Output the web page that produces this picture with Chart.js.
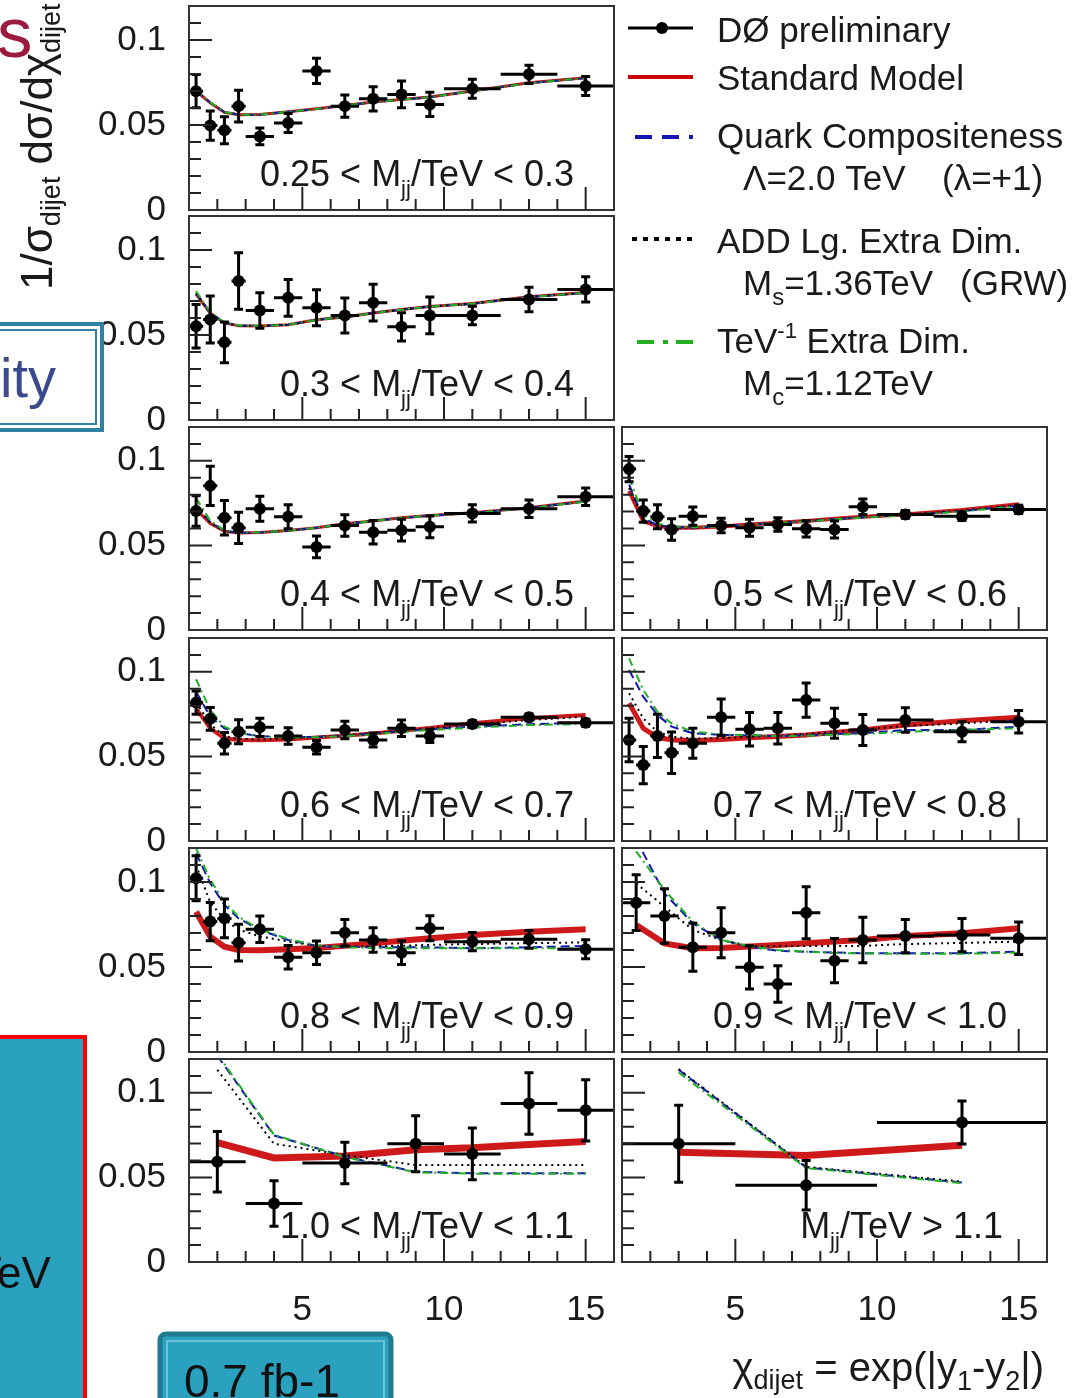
<!DOCTYPE html>
<html>
<head>
<meta charset="utf-8">
<script src="https://cdn.jsdelivr.net/npm/chart.js@4.4.0/dist/chart.umd.min.js"></script>
<style>
body { margin:0; background:#fff; width:1088px; height:1398px; overflow:hidden; position:relative; font-family:"Liberation Sans", Arial, sans-serif; }
canvas { position:absolute; }
#over { position:absolute; left:0; top:0; pointer-events:none; }
</style>
</head>
<body>
<canvas id="cA"></canvas><canvas id="cB"></canvas><canvas id="cC"></canvas><canvas id="cD"></canvas><canvas id="cE"></canvas>
<canvas id="cF"></canvas><canvas id="cG"></canvas><canvas id="cH"></canvas><canvas id="cI"></canvas><canvas id="cJ"></canvas>

<svg id="over" width="1088" height="1398" font-family="Liberation Sans, Arial, sans-serif">
  <!-- slide leftovers -->
  <text x="-3" y="57" font-size="71" fill="#9b1b3f">s</text>
  <rect x="-6" y="324" width="108" height="106" fill="#fff" stroke="#2f82a3" stroke-width="4"/>
  <rect x="-6" y="330" width="102" height="94" fill="none" stroke="#2f82a3" stroke-width="2"/>
  <text x="0" y="397" font-size="56" fill="#3b4a8c">ity</text>
  <rect x="-6" y="1037" width="91" height="370" fill="#2aa2bf" stroke="#ff0000" stroke-width="4"/>
  <text x="-25" y="1288" font-size="44" fill="#111">TeV</text>
  <rect x="160" y="1334" width="231" height="80" rx="6" fill="#2aa2bf" stroke="#1f7a90" stroke-width="5"/>
  <rect x="167" y="1341" width="217" height="70" fill="none" stroke="#6cc3d8" stroke-width="2"/>
  <text x="184" y="1397" font-size="46" fill="#111">0.7 fb-1</text>

  <!-- y axis title -->
  <text transform="translate(52,290) rotate(-90)" font-size="44" fill="#1a1a1a">1/σ<tspan dy="8" font-size="27">dijet</tspan><tspan dy="-8"> dσ/dχ</tspan><tspan dy="8" font-size="27">dijet</tspan></text>

  <!-- x axis title -->
  <text x="1044" y="1381" text-anchor="end" font-size="40" fill="#1a1a1a">χ<tspan dy="8" font-size="27">dijet</tspan><tspan dy="-8"> = exp(|y</tspan><tspan dy="9" font-size="27">1</tspan><tspan dy="-9">-y</tspan><tspan dy="9" font-size="27">2</tspan><tspan dy="-9">|)</tspan></text>

  <!-- legend -->
  <line x1="628" y1="28" x2="693" y2="28" stroke="#000" stroke-width="3"/>
  <circle cx="662" cy="28" r="6" fill="#000"/>
  <text x="717" y="42" font-size="35" fill="#1a1a1a">DØ preliminary</text>
  <line x1="628" y1="77" x2="693" y2="77" stroke="#cc0000" stroke-width="4"/>
  <text x="717" y="90" font-size="35" fill="#1a1a1a">Standard Model</text>
  <line x1="635" y1="137" x2="693" y2="137" stroke="#1515b5" stroke-width="4" stroke-dasharray="17,10"/>
  <text x="717" y="148" font-size="35" fill="#1a1a1a">Quark Compositeness</text>
  <text x="743" y="190" font-size="35" fill="#1a1a1a">Λ=2.0 TeV</text>
  <text x="942" y="190" font-size="35" fill="#1a1a1a">(λ=+1)</text>
  <line x1="632" y1="239" x2="693" y2="239" stroke="#000" stroke-width="4" stroke-dasharray="5,6"/>
  <text x="717" y="253" font-size="35" fill="#1a1a1a">ADD Lg. Extra Dim.</text>
  <text x="743" y="295" font-size="35" fill="#1a1a1a">M<tspan dy="10" font-size="24">s</tspan><tspan dy="-10">=1.36TeV</tspan></text>
  <text x="960" y="295" font-size="35" fill="#1a1a1a">(GRW)</text>
  <line x1="637" y1="342" x2="693" y2="342" stroke="#22b022" stroke-width="4" stroke-dasharray="17,9,5,8,18"/>
  <text x="717" y="353" font-size="35" fill="#1a1a1a">TeV<tspan dy="-15" font-size="22">-1</tspan><tspan dy="15"> Extra Dim.</tspan></text>
  <text x="743" y="395" font-size="35" fill="#1a1a1a">M<tspan dy="10" font-size="24">c</tspan><tspan dy="-10">=1.12TeV</tspan></text>
</svg>

<script>
// chi bins: edges and centres
const chiLo14 = [1, 1.5, 2, 2.5, 3, 4, 5, 6, 7, 8, 9, 10, 12, 14];
const chiHi14 = [1.5, 2, 2.5, 3, 4, 5, 6, 7, 8, 9, 10, 12, 14, 16];
const chiMid14 = [1.25, 1.75, 2.25, 2.75, 3.5, 4.5, 5.5, 6.5, 7.5, 8.5, 9.5, 11, 13, 15];
const chiLo12 = [1, 2, 3, 4, 5, 6, 7, 8, 9, 10, 12, 14];
const chiHi12 = [2, 3, 4, 5, 6, 7, 8, 9, 10, 12, 14, 16];
const chiMid12 = [1.5, 2.5, 3.5, 4.5, 5.5, 6.5, 7.5, 8.5, 9.5, 11, 13, 15];
const chiLo7 = [1, 3, 5, 8, 10, 12, 14];
const chiHi7 = [3, 5, 8, 10, 12, 14, 16];
const chiMid7 = [2, 4, 6.5, 9, 11, 13, 15];
const chiLo3 = [1, 5, 10];
const chiHi3 = [5, 10, 16];
const chiMid3 = [3, 7.5, 13];

// axis ticks
const yTickVals = [0, 0.05, 0.1];
const yTickText = ['0', '0.05', '0.1'];
const xTickVals = [5, 10, 15];
const xTickText = ['5', '10', '15'];
const yMinor = [0.01, 0.02, 0.03, 0.04, 0.06, 0.07, 0.08, 0.09, 0.11];
const yMajor = [0.05, 0.1];
const xMinor = [2, 3, 4, 6, 7, 8, 9, 11, 12, 13, 14];
const xMajor = [5, 10, 15];

// panel labels (M_jj ranges)
const labelLo = ['0.25 < M', '0.3 < M', '0.4 < M', '0.5 < M', '0.6 < M', '0.7 < M', '0.8 < M', '0.9 < M', '1.0 < M', 'M'];
const labelHi = ['/TeV < 0.3', '/TeV < 0.4', '/TeV < 0.5', '/TeV < 0.6', '/TeV < 0.7', '/TeV < 0.8', '/TeV < 0.9', '/TeV < 1.0', '/TeV < 1.1', '/TeV > 1.1'];

// DØ data and stat errors
const dataA = [0.0699, 0.0497, 0.0469, 0.0611, 0.0433, 0.0512, 0.0818, 0.0611, 0.0654, 0.0680, 0.0621, 0.0713, 0.0798, 0.0729];
const errA  = [0.0098, 0.0086, 0.0079, 0.0094, 0.0049, 0.0056, 0.0074, 0.0066, 0.0071, 0.0079, 0.0071, 0.0056, 0.0054, 0.0056];
const dataB = [0.0552, 0.0591, 0.0457, 0.0818, 0.0644, 0.0719, 0.0660, 0.0615, 0.0690, 0.0548, 0.0615, 0.0615, 0.0709, 0.0768];
const errB  = [0.0128, 0.0138, 0.0120, 0.0166, 0.0105, 0.0108, 0.0106, 0.0103, 0.0108, 0.0083, 0.0108, 0.0054, 0.0072, 0.0074];
const dataC = [0.0703, 0.0852, 0.0663, 0.0604, 0.0717, 0.0670, 0.0491, 0.0618, 0.0578, 0.0590, 0.0610, 0.0689, 0.0717, 0.0788];
const errC  = [0.0090, 0.0116, 0.0102, 0.0092, 0.0074, 0.0071, 0.0064, 0.0064, 0.0069, 0.0064, 0.0064, 0.0051, 0.0052, 0.0052];
const dataD = [0.0951, 0.0703, 0.0670, 0.0594, 0.0673, 0.0618, 0.0604, 0.0624, 0.0598, 0.0594, 0.0729, 0.0683, 0.0673, 0.0713];
const errD  = [0.0074, 0.0066, 0.0071, 0.0064, 0.0054, 0.0043, 0.0050, 0.0040, 0.0048, 0.0050, 0.0046, 0.0023, 0.0025, 0.0025];
const dataE = [0.0818, 0.0722, 0.0578, 0.0646, 0.0672, 0.0621, 0.0554, 0.0656, 0.0597, 0.0666, 0.0621, 0.0692, 0.0731, 0.0699];
const errE  = [0.0069, 0.0067, 0.0064, 0.0071, 0.0054, 0.0049, 0.0040, 0.0052, 0.0041, 0.0049, 0.0039, 0.0020, 0.0020, 0.0020];
const dataF = [0.0597, 0.0449, 0.0621, 0.0522, 0.0578, 0.0731, 0.0660, 0.0666, 0.0833, 0.0696, 0.0656, 0.0715, 0.0646, 0.0705];
const errF  = [0.0128, 0.0110, 0.0128, 0.0123, 0.0089, 0.0108, 0.0099, 0.0093, 0.0101, 0.0089, 0.0092, 0.0072, 0.0059, 0.0067];
const dataG = [0.1022, 0.0767, 0.0786, 0.0643, 0.0722, 0.0557, 0.0584, 0.0702, 0.0659, 0.0584, 0.0728, 0.0649, 0.0663, 0.0604];
const errG  = [0.0132, 0.0113, 0.0114, 0.0108, 0.0078, 0.0069, 0.0069, 0.0078, 0.0072, 0.0069, 0.0073, 0.0054, 0.0052, 0.0056];
const dataH = [0.0878, 0.0800, 0.0616, 0.0702, 0.0498, 0.0400, 0.0819, 0.0537, 0.0659, 0.0682, 0.0688, 0.0669];
const errH  = [0.0164, 0.0161, 0.0141, 0.0147, 0.0127, 0.0108, 0.0153, 0.0130, 0.0134, 0.0098, 0.0098, 0.0095];
const dataI = [0.0593, 0.0346, 0.0585, 0.0699, 0.0639, 0.0937, 0.0897];
const errI  = [0.0179, 0.0134, 0.0123, 0.0165, 0.0153, 0.0182, 0.0181];
const dataJ = [0.0699, 0.0454, 0.0824];
const errJ  = [0.0227, 0.0146, 0.0127];

// theory: standard model, quark compositeness, ADD, TeV-1
const smA  = [0.0700, 0.0630, 0.0575, 0.0560, 0.0562, 0.0578, 0.0595, 0.0615, 0.0635, 0.0650, 0.0665, 0.0700, 0.0748, 0.0778];
const ciA  = [0.0703, 0.0632, 0.0576, 0.0560, 0.0561, 0.0577, 0.0594, 0.0614, 0.0634, 0.0649, 0.0664, 0.0699, 0.0746, 0.0776];
const addA = [0.0701, 0.0631, 0.0575, 0.0560, 0.0562, 0.0578, 0.0595, 0.0615, 0.0635, 0.0650, 0.0665, 0.0700, 0.0747, 0.0777];
const tevA = [0.0705, 0.0633, 0.0577, 0.0561, 0.0561, 0.0577, 0.0594, 0.0614, 0.0634, 0.0649, 0.0664, 0.0699, 0.0746, 0.0776];
const smB  = [0.0740, 0.0628, 0.0571, 0.0555, 0.0553, 0.0560, 0.0590, 0.0606, 0.0630, 0.0650, 0.0668, 0.0685, 0.0725, 0.0750];
const ciB  = [0.0748, 0.0630, 0.0572, 0.0555, 0.0553, 0.0560, 0.0589, 0.0605, 0.0629, 0.0649, 0.0667, 0.0684, 0.0723, 0.0748];
const addB = [0.0744, 0.0629, 0.0571, 0.0555, 0.0553, 0.0560, 0.0590, 0.0606, 0.0630, 0.0650, 0.0668, 0.0685, 0.0724, 0.0749];
const tevB = [0.0758, 0.0633, 0.0573, 0.0556, 0.0553, 0.0560, 0.0589, 0.0605, 0.0629, 0.0649, 0.0667, 0.0684, 0.0723, 0.0748];
const smC  = [0.0713, 0.0630, 0.0584, 0.0574, 0.0576, 0.0588, 0.0605, 0.0628, 0.0645, 0.0663, 0.0677, 0.0693, 0.0723, 0.0762];
const ciC  = [0.0740, 0.0638, 0.0587, 0.0575, 0.0576, 0.0588, 0.0604, 0.0627, 0.0644, 0.0662, 0.0676, 0.0692, 0.0721, 0.0760];
const addC = [0.0725, 0.0634, 0.0585, 0.0574, 0.0576, 0.0588, 0.0605, 0.0628, 0.0645, 0.0663, 0.0677, 0.0693, 0.0722, 0.0761];
const tevC = [0.0780, 0.0645, 0.0590, 0.0576, 0.0576, 0.0587, 0.0604, 0.0627, 0.0644, 0.0662, 0.0676, 0.0691, 0.0721, 0.0759];
const smD  = [0.0822, 0.0644, 0.0614, 0.0604, 0.0604, 0.0612, 0.0624, 0.0634, 0.0644, 0.0657, 0.0670, 0.0683, 0.0709, 0.0743];
const ciD  = [0.0860, 0.0660, 0.0620, 0.0608, 0.0605, 0.0612, 0.0623, 0.0633, 0.0643, 0.0655, 0.0666, 0.0680, 0.0703, 0.0735];
const addD = [0.0840, 0.0652, 0.0617, 0.0606, 0.0604, 0.0612, 0.0624, 0.0634, 0.0644, 0.0656, 0.0668, 0.0682, 0.0706, 0.0740];
const tevD = [0.0900, 0.0680, 0.0630, 0.0612, 0.0607, 0.0613, 0.0622, 0.0632, 0.0642, 0.0654, 0.0664, 0.0678, 0.0700, 0.0733];
const smE  = [0.0784, 0.0666, 0.0607, 0.0597, 0.0595, 0.0600, 0.0612, 0.0622, 0.0636, 0.0652, 0.0668, 0.0696, 0.0725, 0.0745];
const ciE  = [0.0882, 0.0735, 0.0666, 0.0637, 0.0620, 0.0615, 0.0615, 0.0622, 0.0635, 0.0650, 0.0660, 0.0676, 0.0690, 0.0699];
const addE = [0.0820, 0.0690, 0.0620, 0.0605, 0.0600, 0.0605, 0.0615, 0.0625, 0.0638, 0.0652, 0.0667, 0.0690, 0.0715, 0.0735];
const tevE = [0.0956, 0.0774, 0.0676, 0.0640, 0.0618, 0.0612, 0.0614, 0.0620, 0.0630, 0.0645, 0.0655, 0.0670, 0.0685, 0.0692];
const smF  = [0.0814, 0.0666, 0.0613, 0.0597, 0.0594, 0.0600, 0.0610, 0.0618, 0.0627, 0.0642, 0.0656, 0.0686, 0.0711, 0.0731];
const ciF  = [0.1011, 0.0853, 0.0745, 0.0676, 0.0637, 0.0627, 0.0625, 0.0621, 0.0625, 0.0632, 0.0637, 0.0656, 0.0656, 0.0676];
const addF = [0.0873, 0.0725, 0.0646, 0.0617, 0.0605, 0.0608, 0.0615, 0.0622, 0.0632, 0.0645, 0.0660, 0.0680, 0.0695, 0.0715];
const tevF = [0.1080, 0.0893, 0.0764, 0.0695, 0.0646, 0.0630, 0.0625, 0.0620, 0.0622, 0.0628, 0.0632, 0.0646, 0.0656, 0.0666];
const smG  = [0.0825, 0.0678, 0.0620, 0.0600, 0.0598, 0.0605, 0.0612, 0.0625, 0.0639, 0.0655, 0.0669, 0.0688, 0.0708, 0.0722];
const ciG  = [0.1169, 0.0992, 0.0865, 0.0786, 0.0718, 0.0659, 0.0624, 0.0618, 0.0616, 0.0616, 0.0616, 0.0610, 0.0616, 0.0624];
const addG = [0.1100, 0.0880, 0.0780, 0.0720, 0.0680, 0.0650, 0.0625, 0.0620, 0.0622, 0.0625, 0.0630, 0.0635, 0.0640, 0.0645];
const tevG = [0.1198, 0.1012, 0.0884, 0.0795, 0.0722, 0.0665, 0.0628, 0.0616, 0.0612, 0.0610, 0.0610, 0.0610, 0.0610, 0.0610];
const smH  = [0.0747, 0.0639, 0.0610, 0.0612, 0.0620, 0.0630, 0.0640, 0.0650, 0.0659, 0.0682, 0.0698, 0.0728];
const ciH  = [0.1250, 0.0933, 0.0757, 0.0659, 0.0619, 0.0595, 0.0590, 0.0585, 0.0581, 0.0581, 0.0581, 0.0590];
const addH = [0.0992, 0.0855, 0.0718, 0.0659, 0.0624, 0.0624, 0.0624, 0.0624, 0.0624, 0.0635, 0.0642, 0.0649];
const tevH = [0.1180, 0.0953, 0.0767, 0.0660, 0.0622, 0.0600, 0.0590, 0.0583, 0.0580, 0.0578, 0.0578, 0.0584];
const smI  = [0.0705, 0.0615, 0.0627, 0.0663, 0.0675, 0.0695, 0.0712];
const ciI  = [0.1220, 0.0748, 0.0623, 0.0533, 0.0525, 0.0525, 0.0525];
const addI = [0.1136, 0.0699, 0.0633, 0.0573, 0.0573, 0.0573, 0.0573];
const tevI = [0.1230, 0.0752, 0.0620, 0.0530, 0.0522, 0.0522, 0.0522];
const smJ  = [0.0649, 0.0630, 0.0690];
const ciJ  = [0.1136, 0.0559, 0.0470];
const addJ = [0.1140, 0.0562, 0.0475];
const tevJ = [0.1120, 0.0555, 0.0466];

const FONT = '"Liberation Sans", Arial, sans-serif';
const rowTop = [6, 216, 427, 638, 848, 1059];
const rowBot = [210, 420, 630, 841, 1052, 1262];

const panels = [
  { id: 'cA', col: 0, row: 0, mid: chiMid14, lo: chiLo14, hi: chiHi14, y: dataA, e: errA, sm: smA, ci: ciA, add: addA, tev: tevA, band: 3 },
  { id: 'cB', col: 0, row: 1, mid: chiMid14, lo: chiLo14, hi: chiHi14, y: dataB, e: errB, sm: smB, ci: ciB, add: addB, tev: tevB, band: 3 },
  { id: 'cC', col: 0, row: 2, mid: chiMid14, lo: chiLo14, hi: chiHi14, y: dataC, e: errC, sm: smC, ci: ciC, add: addC, tev: tevC, band: 3 },
  { id: 'cD', col: 1, row: 2, mid: chiMid14, lo: chiLo14, hi: chiHi14, y: dataD, e: errD, sm: smD, ci: ciD, add: addD, tev: tevD, band: 4 },
  { id: 'cE', col: 0, row: 3, mid: chiMid14, lo: chiLo14, hi: chiHi14, y: dataE, e: errE, sm: smE, ci: ciE, add: addE, tev: tevE, band: 4 },
  { id: 'cF', col: 1, row: 3, mid: chiMid14, lo: chiLo14, hi: chiHi14, y: dataF, e: errF, sm: smF, ci: ciF, add: addF, tev: tevF, band: 5 },
  { id: 'cG', col: 0, row: 4, mid: chiMid14, lo: chiLo14, hi: chiHi14, y: dataG, e: errG, sm: smG, ci: ciG, add: addG, tev: tevG, band: 6 },
  { id: 'cH', col: 1, row: 4, mid: chiMid12, lo: chiLo12, hi: chiHi12, y: dataH, e: errH, sm: smH, ci: ciH, add: addH, tev: tevH, band: 6 },
  { id: 'cI', col: 0, row: 5, mid: chiMid7, lo: chiLo7, hi: chiHi7, y: dataI, e: errI, sm: smI, ci: ciI, add: addI, tev: tevI, band: 7 },
  { id: 'cJ', col: 1, row: 5, mid: chiMid3, lo: chiLo3, hi: chiHi3, y: dataJ, e: errJ, sm: smJ, ci: ciJ, add: addJ, tev: tevJ, band: 7 }
];

function pts(xs, ys) {
  return xs.map((x, i) => ({ x: x, y: ys[i] }));
}

// ROOT-like frame, inner ticks, error bars and panel label
const rootPlugin = {
  id: 'root',
  afterDatasetsDraw(chart, args, o) {
    const ctx = chart.ctx, a = chart.chartArea;
    const xs = chart.scales.x, ys = chart.scales.y;
    ctx.save();
    ctx.beginPath();
    ctx.rect(a.left, a.top, a.right - a.left, a.bottom - a.top);
    ctx.clip();
    ctx.strokeStyle = '#000';
    ctx.lineWidth = 3;
    ctx.beginPath();
    o.y.forEach((v, i) => {
      const yp = ys.getPixelForValue(v);
      const x0 = xs.getPixelForValue(o.lo[i]), x1 = xs.getPixelForValue(o.hi[i]);
      const xc = xs.getPixelForValue(o.mid[i]);
      const yt = ys.getPixelForValue(v + o.e[i]), yb = ys.getPixelForValue(v - o.e[i]);
      ctx.moveTo(x0, yp); ctx.lineTo(x1, yp);
      ctx.moveTo(xc, yt); ctx.lineTo(xc, yb);
      ctx.moveTo(xc - 4.5, yt); ctx.lineTo(xc + 4.5, yt);
      ctx.moveTo(xc - 4.5, yb); ctx.lineTo(xc + 4.5, yb);
    });
    ctx.stroke();
    ctx.restore();

    ctx.save();
    ctx.strokeStyle = '#222';
    ctx.lineWidth = 2;
    ctx.beginPath();
    yMinor.forEach(v => { const p = ys.getPixelForValue(v); ctx.moveTo(a.left, p); ctx.lineTo(a.left + 12, p); });
    yMajor.forEach(v => { const p = ys.getPixelForValue(v); ctx.moveTo(a.left, p); ctx.lineTo(a.left + 23, p); });
    xMinor.forEach(v => { const p = xs.getPixelForValue(v); ctx.moveTo(p, a.bottom); ctx.lineTo(p, a.bottom - 11); });
    xMajor.forEach(v => { const p = xs.getPixelForValue(v); ctx.moveTo(p, a.bottom); ctx.lineTo(p, a.bottom - 23); });
    ctx.stroke();
    ctx.strokeStyle = '#333';
    ctx.strokeRect(a.left, a.top, a.right - a.left, a.bottom - a.top);

    // label  e.g. 0.25 < M_jj/TeV < 0.3
    ctx.fillStyle = '#1a1a1a';
    ctx.textBaseline = 'alphabetic';
    ctx.font = '36px ' + FONT;
    const w1 = ctx.measureText(o.lab1).width, w3 = ctx.measureText(o.lab2).width;
    ctx.font = '22px ' + FONT;
    const w2 = ctx.measureText('jj').width;
    const base = a.bottom - 24;
    let x = a.right - o.rightGap - (w1 + w2 + w3);
    ctx.font = '36px ' + FONT;
    ctx.fillText(o.lab1, x, base);
    ctx.font = '22px ' + FONT;
    ctx.fillText('jj', x + w1, base + 10);
    ctx.font = '36px ' + FONT;
    ctx.fillText(o.lab2, x + w1 + w2, base);
    ctx.restore();
  }
};

panels.forEach((p, k) => {
  const left = p.col === 0;
  const bottomRow = p.row === 5;
  const top = rowTop[p.row], bot = rowBot[p.row];
  const cv = document.getElementById(p.id);
  const cx = left ? 0 : 612;
  const cw = left ? 625 : 445;
  const ch = (bot - top) + 12 + (bottomRow ? 75 : 26);
  cv.width = cw; cv.height = ch;
  cv.style.left = cx + 'px';
  cv.style.top = (top - 12) + 'px';

  new Chart(cv, {
    type: 'line',
    data: {
      datasets: [
        { label: 'DØ preliminary', data: pts(p.mid, p.y), showLine: false, pointRadius: 6, pointBackgroundColor: '#000', pointBorderWidth: 0, order: 0 },
        { label: 'TeV-1 Extra Dim.', data: pts(p.mid, p.tev), borderColor: '#22b022', borderWidth: 2, borderDash: [8, 4, 2, 4], pointRadius: 0, order: 1 },
        { label: 'ADD Lg. Extra Dim.', data: pts(p.mid, p.add), borderColor: '#000', borderWidth: 2, borderDash: [2, 4], pointRadius: 0, order: 2 },
        { label: 'Quark Compositeness', data: pts(p.mid, p.ci), borderColor: '#1515b5', borderWidth: 2, borderDash: [9, 5], pointRadius: 0, order: 3 },
        { label: 'Standard Model', data: pts(p.mid, p.sm), borderColor: 'rgba(200,0,0,0.9)', borderWidth: p.band, pointRadius: 0, order: 4 }
      ]
    },
    options: {
      responsive: false,
      animation: false,
      devicePixelRatio: 1,
      events: [],
      layout: { autoPadding: false, padding: { left: left ? 0 : 10, right: left ? 11 : 10, top: 12, bottom: bottomRow ? 0 : 26 } },
      elements: { line: { tension: 0, borderCapStyle: 'butt' } },
      plugins: {
        legend: { display: false },
        tooltip: { enabled: false },
        root: { lo: p.lo, hi: p.hi, mid: p.mid, y: p.y, e: p.e, lab1: labelLo[k], lab2: labelHi[k], rightGap: k === 9 ? 44 : 40 }
      },
      scales: {
        x: {
          type: 'linear', min: 1, max: 16, display: bottomRow,
          grid: { display: false, drawTicks: false }, border: { display: false },
          afterBuildTicks: s => { s.ticks = xTickVals.map(v => ({ value: v })); },
          afterFit: s => { if (bottomRow) s.height = 75; s.paddingLeft = 0; s.paddingRight = 0; },
          ticks: { padding: 27, color: '#1a1a1a', font: { size: 35, family: FONT }, autoSkip: false, maxRotation: 0,
                   callback: v => xTickText[xTickVals.indexOf(v)] }
        },
        y: {
          type: 'linear', min: 0, max: 0.12, display: left, position: 'left',
          grid: { display: false, drawTicks: false }, border: { display: false },
          afterBuildTicks: s => { s.ticks = yTickVals.map(v => ({ value: v })); },
          afterFit: s => { if (left) s.width = 189; s.paddingTop = 0; s.paddingBottom = 0; },
          ticks: { padding: 23, color: '#1a1a1a', font: { size: 35, family: FONT }, autoSkip: false,
                   callback: v => yTickText[yTickVals.indexOf(v)] }
        }
      }
    },
    plugins: [rootPlugin]
  });
});
</script>
</body>
</html>
